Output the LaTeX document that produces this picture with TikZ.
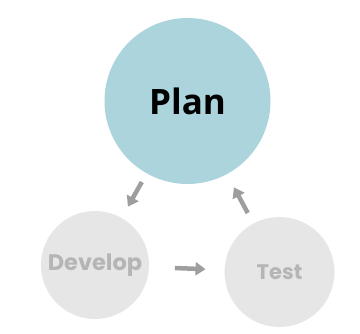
\documentclass[tikz,border=0pt]{standalone}
\usepackage{fontspec}
\setmainfont{Open Sans}
\newfontfamily\stepfont{Poppins}
\usetikzlibrary{arrows.meta}
\definecolor{planblue}{HTML}{ABD4DD}
\definecolor{phasegray}{HTML}{E6E6E6}
\definecolor{phasetext}{HTML}{B5B5B5}
\definecolor{arrowgray}{HTML}{9E9E9E}

\begin{document}
\begin{tikzpicture}[x=1pt,y=-1pt,
    phase/.style={circle, fill=phasegray, inner sep=0pt, outer sep=0pt, text=phasetext, font=\stepfont\bfseries\fontsize{21}{21}\selectfont},
    flow/.style={draw=arrowgray, line width=4.5pt, -{Triangle[width=13pt,length=10pt]}}]
        \useasboundingbox (0,0) rectangle (360,334);
        \node[circle, fill=planblue, inner sep=0pt, outer sep=0pt, minimum size=166pt,
              font=\bfseries\fontsize{35}{35}\selectfont] (plan) at (187.5,101) {Plan};
        \node[phase, minimum size=108pt, font=\stepfont\bfseries\fontsize{22.5}{22.5}\selectfont] (develop) at (95,265) {Develop};
        \node[phase, minimum size=110pt] (test) at (279.5,272) {Test};
        \draw[flow, shorten <=10pt, shorten >=13pt] (plan) -- (develop);
        \draw[flow, shorten <=26pt, shorten >=19pt] (develop) -- (test);
        \draw[flow, shorten <=12pt, shorten >=15pt] (test) -- (plan);
    \end{tikzpicture}
\end{document}
